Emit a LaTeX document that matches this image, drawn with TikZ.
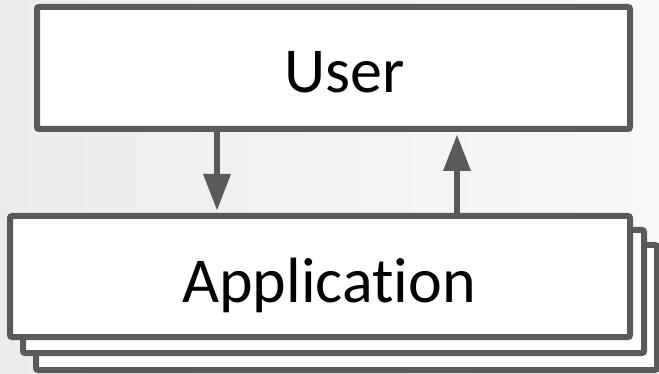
\documentclass[tikz,border=0pt]{standalone}
\usepackage{fontspec}
\setmainfont[Ligatures={NoCommon,NoRare,NoContextual}]{Carlito}
\usetikzlibrary{arrows.meta}
\definecolor{edge}{HTML}{5A5A5A}
\definecolor{bgl}{HTML}{ECECEC}
\definecolor{bgr}{HTML}{F8F8F8}
\tikzset{
  box/.style={draw=edge, fill=white, line width=6pt, rounded corners=2pt, inner sep=0pt},
  lbl/.style={font=\fontsize{64}{70}\selectfont, anchor=base, inner sep=0pt},
  arr/.style={draw=edge, line width=6pt, -{Triangle[width=28pt,length=36pt,line width=0pt]}}
}
\begin{document}
\begin{tikzpicture}[x=1pt,y=-1pt]
\useasboundingbox (0,0) rectangle (659,374);
\shade[left color=bgl, right color=bgr] (0,0) rectangle (659,374);
% stacked application boxes
\node[box, minimum width=621pt, minimum height=125pt] (a3) at (346.5,307.5) {};
\node[box, minimum width=621pt, minimum height=123pt] (a2) at (333.5,291.5) {};
\node[box, minimum width=620pt, minimum height=121pt] (a) at (320,276.5) {};
% user box
\node[box, minimum width=593pt, minimum height=122pt] (u) at (333.5,68) {};
% texts
\node[lbl] (ut) at (345,93) {User};
\node[lbl] (at) at (329,302) {Application};
% arrows
\coordinate (c1) at (217,0);
\coordinate (c2) at (457,0);
\draw[arr, shorten >=3pt] (u.south -| c1) -- (a.north -| c1);
\draw[arr, shorten >=3pt] (a.north -| c2) -- (u.south -| c2);
\end{tikzpicture}
\end{document}
